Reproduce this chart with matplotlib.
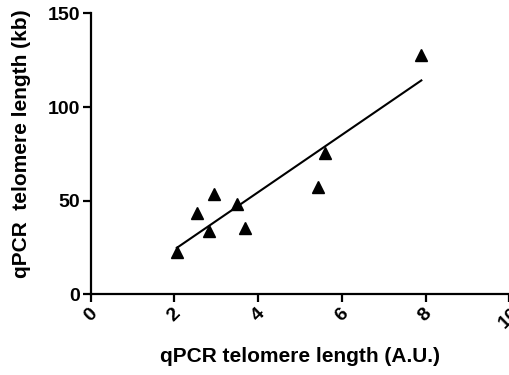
import numpy as np
import matplotlib
matplotlib.use('Agg')
import matplotlib.pyplot as plt

# qPCR (A.U.) vs TRF telomere length (kb)
qpcr_au = [2.06, 2.54, 2.95, 2.84, 3.50, 3.68, 5.43, 5.59, 7.90]
length_kb = [22.8, 43.3, 53.6, 34.0, 48.3, 35.3, 57.5, 75.7, 127.8]
x_ticks = [0, 2, 4, 6, 8, 10]
y_ticks = [0, 50, 100, 150]

plt.rcParams['font.family'] = ['Liberation Sans', 'DejaVu Sans']
plt.rcParams['font.weight'] = 'bold'

fig = plt.figure(figsize=(5.1, 3.75), dpi=100)
ax = fig.add_axes([0.1775, 0.2147, 0.8211, 0.7498])

ax.plot(qpcr_au, length_kb, '^', color='black', markersize=9, clip_on=False)

# linear regression over the data range
slope, intercept = np.polyfit(qpcr_au, length_kb, 1)
xfit = np.array([min(qpcr_au), max(qpcr_au)])
ax.plot(xfit, slope * xfit + intercept, color='black', linewidth=1.5)

ax.set_xlim(0, 10)
ax.set_ylim(0, 150)
ax.set_xticks(x_ticks)
ax.set_yticks(y_ticks)
ax.set_xticklabels([str(t) for t in x_ticks], rotation=45, ha='center')

for side in ['top', 'right']:
    ax.spines[side].set_visible(False)
for side in ['left', 'bottom']:
    ax.spines[side].set_linewidth(1.6)
ax.tick_params(direction='out', length=6, width=1.6, labelsize=14, pad=1.5)
for lab in ax.get_xticklabels() + ax.get_yticklabels():
    lab.set_fontweight('bold')

ax.set_xlabel('qPCR telomere length (A.U.)', fontsize=15, fontweight='bold', va='center')
ax.xaxis.set_label_coords(0.5, -0.222)
ax.set_ylabel('qPCR  telomere length (kb)', fontsize=15, fontweight='bold', va='center')
ax.yaxis.set_label_coords(-0.164, 0.535)

fig.savefig('out.png', dpi=100)
